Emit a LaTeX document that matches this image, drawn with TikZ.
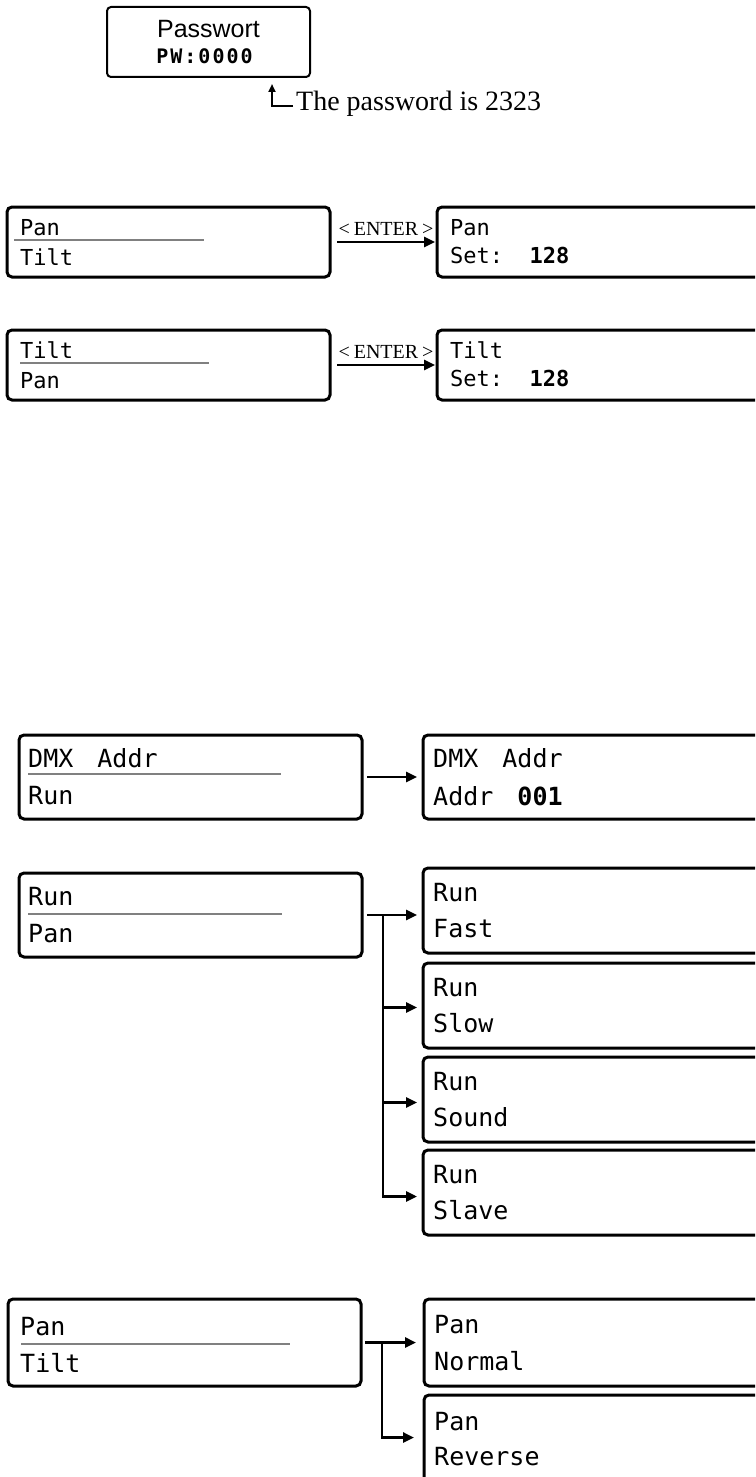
\documentclass[tikz,border=0pt]{standalone}
\usepackage{fontspec}
\setmainfont{Liberation Serif}
\newfontfamily\lcdfont{DejaVu Sans Mono}
\newfontfamily\pwfont[LetterSpace=10]{DejaVu Sans Mono}
\newfontfamily\arialfont{Liberation Sans}
\usetikzlibrary{arrows.meta,positioning}
\newcommand\lcdgap{\ \hspace{9pt}}

\begin{document}
\begin{tikzpicture}[x=1pt,y=-1pt,
	lcdbox/.style={draw, line width=3pt, rounded corners=5pt, inner sep=0pt, outer sep=0pt, anchor=north west, minimum height=84pt},
	lcdsmall/.style={font=\lcdfont\fontsize{22}{24}\selectfont, inner sep=0pt, anchor=base west},
	lcdbig/.style={font=\lcdfont\fontsize{25}{28}\selectfont, inner sep=0pt, anchor=base west},
	enterlbl/.style={above=5pt, inner sep=0pt, font=\fontsize{20}{22}\selectfont},
	divline/.style={draw=gray, line width=1.5pt},
	arr/.style={line width=2.5pt, -{Triangle[length=11pt,width=10pt]}}]
	\clip (0,0) rectangle (755,1477);

	\node[lcdbox, minimum width=203pt, minimum height=70pt, line width=2pt, rounded corners=4pt] (pwbox) at (107,7) {};
	\node[font=\arialfont\fontsize{25}{28}\selectfont, inner sep=0pt, anchor=base] (pwtitle) at ([shift={(0,31)}]pwbox.north) {Passwort};
	\node[font=\pwfont\bfseries\fontsize{20}{22}\selectfont, inner sep=0pt, anchor=base] (pwcode) at ([shift={(-4,57)}]pwbox.north) {PW:0000};
	\node[font=\fontsize{28}{32}\selectfont, inner sep=0pt, anchor=base west] (pwnote) at (296,111) {The password is 2323};
	\coordinate (pwtip) at (272,84);
	\draw[line width=2pt, -{Triangle[length=8pt,width=7pt]}] ([shift={(-3,-5)}]pwnote.base west) -| (pwtip);

	\node[lcdbox, minimum width=323pt, minimum height=70pt] (pan) at (7,207) {};
	\node[lcdbox, minimum width=340pt, minimum height=70pt] (panset) at (437,207) {};
	\node[lcdsmall] (panl1) at ([shift={(13,28)}]pan.north west) {Pan};
	\node[lcdsmall] (panl2) at ([shift={(13,58)}]pan.north west) {Tilt};
	\draw[divline] ([shift={(7,33)}]pan.north west) -- ++(190,0);
	\node[lcdsmall] (pansetl1) at ([shift={(13,28)}]panset.north west) {Pan};
	\node[lcdsmall] (pansetl2) at ([shift={(13,56)}]panset.north west) {Set:\ \ \textbf{128}};
	\draw[arr] ([xshift=7pt]pan.east) -- node[enterlbl] (enter1) {<\hspace{4pt}ENTER\hspace{4pt}>} ([xshift=-2pt]panset.west);

	\node[lcdbox, minimum width=323pt, minimum height=70pt] (tilt) at (7,330) {};
	\node[lcdbox, minimum width=340pt, minimum height=70pt] (tiltset) at (437,330) {};
	\node[lcdsmall] (tiltl1) at ([shift={(13,28)}]tilt.north west) {Tilt};
	\node[lcdsmall] (tiltl2) at ([shift={(13,58)}]tilt.north west) {Pan};
	\draw[divline] ([shift={(13,33)}]tilt.north west) -- ++(189,0);
	\node[lcdsmall] (tiltsetl1) at ([shift={(13,28)}]tiltset.north west) {Tilt};
	\node[lcdsmall] (tiltsetl2) at ([shift={(13,56)}]tiltset.north west) {Set:\ \ \textbf{128}};
	\draw[arr] ([xshift=7pt]tilt.east) -- node[enterlbl] (enter2) {<\hspace{4pt}ENTER\hspace{4pt}>} ([xshift=-2pt]tiltset.west);

	\node[lcdbox, minimum width=343pt] (dmx) at (19,735) {};
	\node[lcdbox, minimum width=352pt] (dmxset) at (423,735) {};
	\node[lcdbig] (dmxl1) at ([shift={(9,32)}]dmx.north west) {DMX\lcdgap Addr};
	\node[lcdbig] (dmxl2) at ([shift={(9,69)}]dmx.north west) {Run};
	\draw[divline] ([shift={(9,39)}]dmx.north west) -- ++(253,0);
	\node[lcdbig] (dmxsetl1) at ([shift={(10,32)}]dmxset.north west) {DMX\lcdgap Addr};
	\node[lcdbig] (dmxsetl2) at ([shift={(10,70)}]dmxset.north west) {Addr\lcdgap\textbf{001}};
	\draw[arr] ([xshift=5pt]dmx.east) -- ([xshift=-6pt]dmxset.west);

	\node[lcdbox, minimum width=343pt] (run) at (19,873) {};
	\node[lcdbig] (runl1) at ([shift={(9,32)}]run.north west) {Run};
	\node[lcdbig] (runl2) at ([shift={(9,69)}]run.north west) {Pan};
	\draw[divline] ([shift={(9,41)}]run.north west) -- ++(254,0);
	\node[lcdbox, minimum width=352pt, minimum height=85pt] (fast) at (423,868) {};
	\node[lcdbox, minimum width=352pt, minimum height=85pt] (slow) at (423,963) {};
	\node[lcdbox, minimum width=352pt, minimum height=85pt] (sound) at (423,1057) {};
	\node[lcdbox, minimum width=352pt, minimum height=85pt] (slave) at (423,1150) {};
	\node[lcdbig] (fastl1) at ([shift={(10,33)}]fast.north west) {Run};
	\node[lcdbig] (fastl2) at ([shift={(10,69)}]fast.north west) {Fast};
	\node[lcdbig] (slowl1) at ([shift={(10,33)}]slow.north west) {Run};
	\node[lcdbig] (slowl2) at ([shift={(10,69)}]slow.north west) {Slow};
	\node[lcdbig] (soundl1) at ([shift={(10,33)}]sound.north west) {Run};
	\node[lcdbig] (soundl2) at ([shift={(10,69)}]sound.north west) {Sound};
	\node[lcdbig] (slavel1) at ([shift={(10,33)}]slave.north west) {Run};
	\node[lcdbig] (slavel2) at ([shift={(10,69)}]slave.north west) {Slave};
	\coordinate (runjn) at ([xshift=21pt]run.east);
	\draw[arr] ([xshift=5pt]run.east) -- ([xshift=-6pt]run.east -| fast.west);
	\draw[arr] (runjn) |- ([shift={(-6,2)}]slow.west);
	\draw[arr] (runjn) |- ([shift={(-6,3)}]sound.west);
	\draw[arr] (runjn) |- ([shift={(-6,4)}]slave.west);

	\node[lcdbox, minimum width=353pt, minimum height=87pt] (panmenu) at (8,1299) {};
	\node[lcdbig] (panmenul1) at ([shift={(12,36)}]panmenu.north west) {Pan};
	\node[lcdbig] (panmenul2) at ([shift={(12,73)}]panmenu.north west) {Tilt};
	\draw[divline] ([shift={(13,45)}]panmenu.north west) -- ++(269,0);
	\node[lcdbox, minimum width=352pt, minimum height=87pt] (normal) at (424,1299) {};
	\node[lcdbox, minimum width=352pt, minimum height=87pt] (reverse) at (424,1395) {};
	\node[lcdbig] (normall1) at ([shift={(10,34)}]normal.north west) {Pan};
	\node[lcdbig] (normall2) at ([shift={(10,71)}]normal.north west) {Normal};
	\node[lcdbig] (reversel1) at ([shift={(10,35)}]reverse.north west) {Pan};
	\node[lcdbig] (reversel2) at ([shift={(10,70)}]reverse.north west) {Reverse};
	\coordinate (panjn) at ([xshift=21pt]panmenu.east);
	\draw[arr] ([xshift=4pt]panmenu.east) -- ([xshift=-8pt]panmenu.east -| normal.west);
	\draw[arr] (panjn) |- ([shift={(-10,-1)}]reverse.west);
\end{tikzpicture}
\end{document}
